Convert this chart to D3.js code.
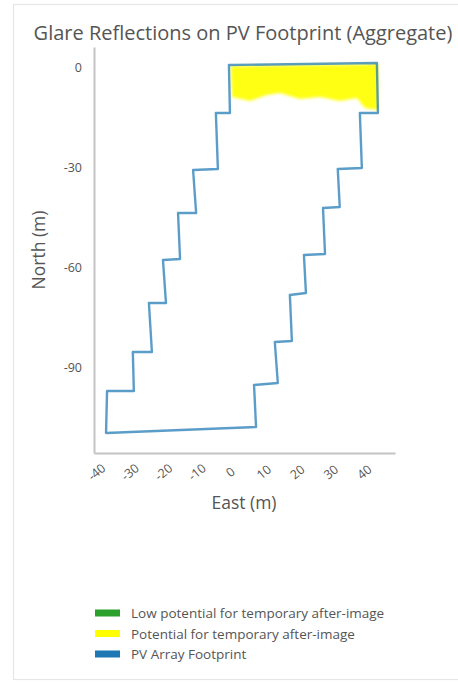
<!DOCTYPE html>
<html>
<head>
<meta charset="utf-8">
<script src="https://cdn.jsdelivr.net/npm/d3@7.9.0/dist/d3.min.js"></script>
<style>
  body { margin: 0; background: #fff; }
  text { font-family: "Open Sans", "Noto Sans", sans-serif; fill: #555; }
</style>
</head>
<body>
<div id="chart"></div>
<script>
// PV array footprint outline, east / north in metres (clockwise from top-left)
const footprintEast = [-0.3, 43.9, 44.2, 38.8, 39.4, 32.2, 32.8, 27.8, 28.4, 22.1, 22.7, 17.9, 18.5, 13.4, 14.3, 7.2, 7.8,
  -37.0, -36.7, -28.7, -29.0, -23.3, -24.2, -19.1, -20.0, -14.9, -15.5, -10.1, -11.0, -3.6, -4.2, 0.0];
const footprintNorth = [0.6, 1.2, -13.8, -13.8, -30.3, -30.6, -42.0, -42.3, -56.1, -56.4, -67.8, -68.4, -82.2, -82.5, -94.8, -95.4, -108.0,
  -109.8, -97.2, -97.2, -85.5, -85.5, -70.8, -70.8, -57.9, -57.6, -43.8, -43.8, -30.9, -30.6, -13.8, -13.8];

// glare area (potential for after-image): top edge, then lower edge east to west
const glareEast = [0.2, 44.3, 44.3, 43.9, 40.3, 37.9, 32.8, 26.9, 20.9, 14.9, 11.0, 6.0, 0.6];
const glareNorth = [0.3, 0.9, -12.6, -12.9, -12.3, -9.3, -10.2, -9.0, -9.6, -7.8, -8.4, -10.2, -9.0];

const xTicks = [-40, -30, -20, -10, 0, 10, 20, 30, 40];
const yTicks = [0, -30, -60, -90];

const legendLabels = ["Low potential for temporary after-image", "Potential for temporary after-image", "PV Array Footprint"];
const legendColors = ["#2ca02c", "#ffff00", "#1f77b4"];

const width = 458, height = 682;

const svg = d3.select("#chart").append("svg")
  .attr("width", width)
  .attr("height", height);

// card frame
svg.append("rect")
  .attr("x", 13.5).attr("y", 4.5)
  .attr("width", 470).attr("height", 675)
  .attr("fill", "#fff")
  .attr("stroke", "#e6e6e6")
  .attr("stroke-width", 1.2);

svg.append("text")
  .attr("x", 243).attr("y", 40)
  .attr("text-anchor", "middle")
  .style("font-size", "20px")
  .text("Glare Reflections on PV Footprint (Aggregate)");

// equal aspect scales
const x = d3.scaleLinear().domain([-40.6, 49.3]).range([94, 395]);
const y = d3.scaleLinear().domain([6, -115.8]).range([47, 453]);

const defs = svg.append("defs");
defs.append("filter").attr("id", "soft")
  .append("feGaussianBlur").attr("stdDeviation", 1.4);
defs.append("filter").attr("id", "soft2")
  .append("feGaussianBlur").attr("stdDeviation", 0.5);

// axes
const yAxis = svg.append("g")
  .attr("transform", `translate(${x.range()[0]},0)`)
  .call(d3.axisLeft(y).tickValues(yTicks).tickSize(0).tickSizeOuter(0).tickPadding(12).tickFormat(d => String(d)));
const xAxis = svg.append("g")
  .attr("transform", `translate(0,${y.range()[1]})`)
  .call(d3.axisBottom(x).tickValues(xTicks).tickSize(0).tickSizeOuter(0).tickFormat(d => String(d)));

[xAxis, yAxis].forEach(g => {
  g.select(".domain").attr("stroke", "#c4c4c4").attr("stroke-width", 2);
  g.selectAll("text").style("font-size", "12.5px").attr("fill", "#555");
});
xAxis.selectAll("text")
  .attr("y", 0).attr("dy", 0)
  .attr("text-anchor", "middle")
  .attr("dominant-baseline", "central")
  .attr("transform", "translate(0,19) rotate(-40)");

svg.append("text")
  .attr("x", 244).attr("y", 509)
  .attr("text-anchor", "middle")
  .style("font-size", "17.5px")
  .text("East (m)");

svg.append("text")
  .attr("transform", "translate(45,250) rotate(-90)")
  .attr("text-anchor", "middle")
  .style("font-size", "17.5px")
  .text("North (m)");

// glare area
const glarePts = glareEast.map((e, i) => [x(e), y(glareNorth[i])]);
svg.append("path")
  .attr("d", d3.line()(glarePts) + "Z")
  .attr("fill", "#ffff00")
  .attr("fill-opacity", 0.92)
  .attr("filter", "url(#soft)");

// footprint outline
const footPts = footprintEast.map((e, i) => [x(e), y(footprintNorth[i])]);
svg.append("path")
  .attr("d", d3.line()(footPts) + "Z")
  .attr("fill", "none")
  .attr("stroke", "#1f77b4")
  .attr("stroke-opacity", 0.72)
  .attr("stroke-width", 2.4)
  .attr("stroke-linejoin", "round")
  .attr("filter", "url(#soft2)");

// legend
const legend = svg.append("g").attr("transform", "translate(95,613)");
const rows = legend.selectAll("g").data(legendLabels).join("g")
  .attr("transform", (d, i) => `translate(0,${i * 20.5})`);
rows.append("rect")
  .attr("x", 0).attr("y", -3.5)
  .attr("width", 25).attr("height", 7)
  .attr("fill", (d, i) => legendColors[i]);
rows.append("text")
  .attr("x", 36).attr("y", 0)
  .attr("dominant-baseline", "central")
  .style("font-size", "13.5px")
  .text(d => d);
</script>
</body>
</html>
